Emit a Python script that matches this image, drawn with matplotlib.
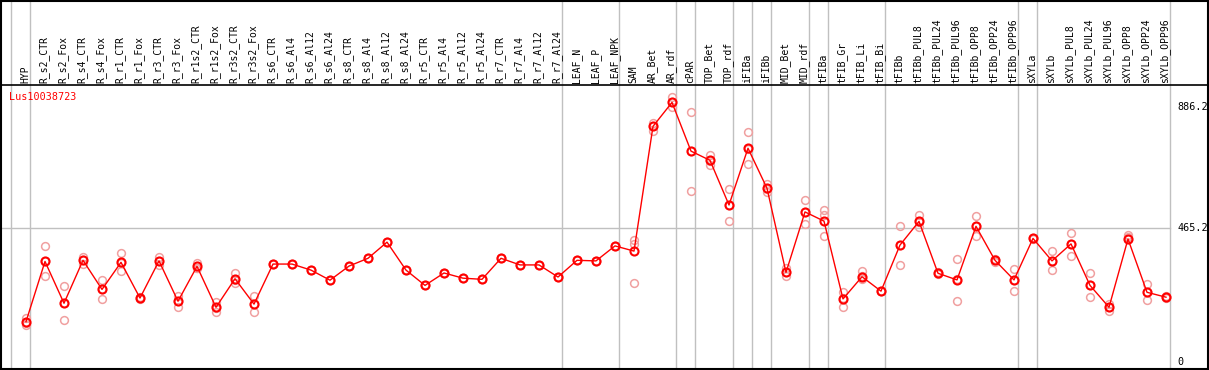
import matplotlib
matplotlib.use("Agg")
import matplotlib.pyplot as plt
import numpy as np

# Sample names (one column each)
samples = [
    "HYP",
    "R_s2_CTR", "R_s2_Fox", "R_s4_CTR", "R_s4_Fox", "R_r1_CTR", "R_r1_Fox",
    "R_r3_CTR", "R_r3_Fox", "R_r1s2_CTR", "R_r1s2_Fox", "R_r3s2_CTR", "R_r3s2_Fox",
    "R_s6_CTR", "R_s6_Al4", "R_s6_Al12", "R_s6_Al24",
    "R_s8_CTR", "R_s8_Al4", "R_s8_Al12", "R_s8_Al24",
    "R_r5_CTR", "R_r5_Al4", "R_r5_Al12", "R_r5_Al24",
    "R_r7_CTR", "R_r7_Al4", "R_r7_Al12", "R_r7_Al24",
    "LEAF_N", "LEAF_P", "LEAF_NPK",
    "SAM", "AR_Bet", "AR_rdf", "cPAR", "TOP_Bet", "TOP_rdf",
    "iFIBa", "iFIBb", "MID_Bet", "MID_rdf",
    "tFIBa", "tFIB_Gr", "tFIB_Li", "tFIB_Bi", "tFIBb",
    "tFIBb_PUL8", "tFIBb_PUL24", "tFIBb_PUL96",
    "tFIBb_OPP8", "tFIBb_OPP24", "tFIBb_OPP96",
    "sXYLa", "sXYLb",
    "sXYLb_PUL8", "sXYLb_PUL24", "sXYLb_PUL96",
    "sXYLb_OPP8", "sXYLb_OPP24", "sXYLb_OPP96",
]

# Mean expression per sample
means = [
    141,
    350, 205, 354, 253, 347, 223, 352, 212, 333, 191, 290, 202,
    341, 341, 320, 285, 334, 361, 417, 320,
    267, 310, 292, 288, 361, 338, 338, 296,
    354, 352, 404,
    386, 819, 902, 733, 701, 546,
    743, 604, 312, 522,
    490, 220, 297, 247, 407,
    489, 309, 286, 472, 354, 286,
    430, 352,
    411, 267, 191, 428, 243, 226,
]

# Replicate values (light circles)
rep_a = [
    153,
    404, 264, 364, 285, 379, 228, 364, 231, 346, 210, 310, 229,
    341, 341, 320, 285, 334, 361, 417, 320,
    267, 310, 292, 288, 361, 338, 338, 296,
    354, 352, 404,
    424, 830, 920, 868, 720, 600,
    798, 619, 326, 562,
    529, 245, 317, 247, 473,
    510, 312, 357, 508, 358, 323,
    432, 386,
    449, 310, 202, 442, 272, 229,
]
rep_b = [
    129,
    298, 146, 341, 219, 316, 218, 338, 191, 327, 175, 276, 174,
    341, 341, 320, 285, 334, 361, 417, 320,
    267, 310, 292, 288, 361, 338, 338, 296,
    354, 352, 404,
    412, 804, 885, 595, 684, 490,
    688, 592, 300, 479,
    439, 191, 288, 247, 338,
    471, 305, 212, 437, 349, 246,
    428, 319,
    369, 226, 179, 434, 216, 222,
]
rep_c = [
    138,
    350, 205, 356, 255, 346, 223, 353, 213, 328, 189, 285, 204,
    341, 341, 320, 285, 334, 361, 417, 320,
    267, 310, 292, 288, 361, 338, 338, 296,
    354, 352, 404,
    274, 820, 902, 735, 700, 546,
    742, 602, 312, 522,
    511, 222, 300, 247, 407,
    488, 309, 288, 472, 354, 286,
    430, 352,
    411, 267, 192, 428, 243, 226,
]

# Last column index of each sample group (grey separators)
group_ends = [-1, 0, 28, 31, 34, 35, 37, 38, 39, 41, 42, 45, 52, 53, 60]

gene = "Lus10038723"
y_ticks = [886.2, 465.2, 0]

# figure: 1209x370 px, one axes covering the outer box
fig = plt.figure(figsize=(12.09, 3.70), dpi=100)
ax = fig.add_axes([1 / 1209, 1 / 370, 1207 / 1209, 368 / 370])

px_per_col = 19.0
px_per_unit = 0.2881
x0_px, y0_px = 26.0, 362.3  # pixel of column 0 / value 0


def vx(px):
    return (px - x0_px) / px_per_col


def vy(py):
    return (y0_px - py) / px_per_unit


ax.set_xlim(vx(1), vx(1208))
ax.set_ylim(vy(369), vy(1))

x = np.arange(len(samples))
header_y = vy(85)

# grid
for g in group_ends:
    ax.axvline(g + 0.23, color="#c0c0c0", lw=1, zorder=1)
ax.plot([vx(1), 60.23], [465.2, 465.2], color="#c0c0c0", lw=1, zorder=1)
ax.axhline(header_y, color="black", lw=1.2, zorder=2)

# replicates
for rep in (rep_a, rep_b, rep_c):
    ax.plot(x, rep, "o", ms=5.6, mfc="none", mec="#f0a0a0", mew=1.1, zorder=3)

# mean line
ax.plot(x, means, "-", color="red", lw=1, zorder=4)
ax.plot(x, means, "o", ms=5.8, mfc="none", mec="red", mew=1.5, zorder=5)

# sample labels in the header
for i, name in enumerate(samples):
    ax.text(i - 0.05, vy(83), name, rotation=90, ha="center", va="bottom",
            fontsize=7, family="DejaVu Sans Mono", color="black")

# gene name
ax.text(vx(9), vy(97), gene, ha="left", va="center", color="red",
        fontsize=7.3, family="DejaVu Sans Mono")

# value labels on the right
for t in y_ticks:
    ax.text(vx(1177), t, f"{t:g}" if t == 0 else f"{t:.1f}", ha="left",
            va="center", fontsize=7.3, family="DejaVu Sans Mono")

ax.set_xticks([])
ax.set_yticks([])
for s in ax.spines.values():
    s.set_linewidth(1.5)
    s.set_color("black")

fig.savefig("out.png", dpi=100)
